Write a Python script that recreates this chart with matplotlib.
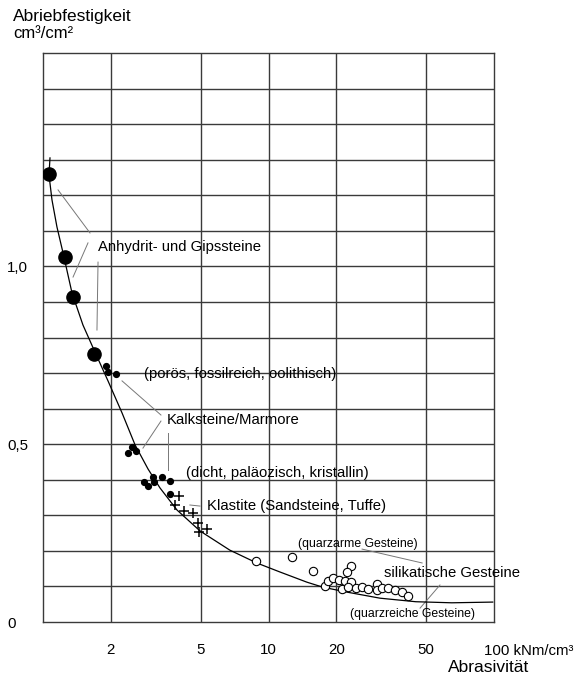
import matplotlib
matplotlib.use("Agg")
import matplotlib.pyplot as plt

plt.rcParams['font.family'] = ['Liberation Sans', 'DejaVu Sans']

# Anhydrit / Gips (große Punkte)
gips_x = [1.06, 1.25, 1.36, 1.68]
gips_y = [1.26, 1.026, 0.914, 0.754]

# Kalksteine / Marmore (kleine Punkte)
kalk_x = [1.90, 1.94, 2.11, 2.38, 2.48, 2.58, 2.80, 2.92, 3.08, 3.10, 3.37, 3.66, 3.66]
kalk_y = [0.72, 0.703, 0.697, 0.475, 0.492, 0.481, 0.394, 0.382, 0.408, 0.394, 0.408, 0.396, 0.360]

# Klastite (Kreuze)
klast_x = [4.01, 3.84, 4.22, 4.62, 4.87, 4.92, 5.33]
klast_y = [0.354, 0.329, 0.312, 0.306, 0.278, 0.253, 0.262]

# silikatische Gesteine (offene Kreise)
silik_x = [8.8, 12.7, 15.7, 23.2, 22.3, 17.8, 18.3, 19.3, 20.5, 21.8, 23.2, 21.1,
           22.5, 24.5, 26.0, 27.6, 30.2, 30.2, 31.8, 33.8, 36.4, 39.0, 41.6]
silik_y = [0.172, 0.183, 0.143, 0.157, 0.141, 0.101, 0.115, 0.124, 0.118, 0.115, 0.112, 0.093,
           0.098, 0.096, 0.098, 0.093, 0.107, 0.090, 0.096, 0.096, 0.090, 0.084, 0.073]

# Ausgleichskurve
kurve_x = [1.074, 1.063, 1.096, 1.153, 1.227, 1.345, 1.504, 1.70, 1.942, 2.241, 2.56,
           2.924, 3.302, 3.927, 4.97, 6.74, 8.87, 11.2, 14.8, 17.4, 22.3, 31.2, 45.0,
           65.0, 98.7]
kurve_y = [1.305, 1.257, 1.187, 1.111, 1.038, 0.925, 0.835, 0.759, 0.678, 0.588, 0.498,
           0.430, 0.377, 0.315, 0.256, 0.202, 0.166, 0.141, 0.112, 0.098, 0.084, 0.067, 0.057,
           0.054, 0.056]

x_ticks = [2, 5, 10, 20, 50]
x_grid = [2, 5, 10, 20, 50]
y_ticks = [0, 0.5, 1.0]
y_labels = ['0', '0,5', '1,0']

fig = plt.figure(figsize=(5.74, 6.77), dpi=100)
ax = fig.add_axes([43/574, 1-622/677, 451/574, 569/677])
ax.set_xscale('log')
ax.set_xlim(1, 100)
ax.set_ylim(0, 1.6)

gc = '#3a3a3a'
for v in x_grid:
    ax.axvline(v, color=gc, lw=1.0, zorder=1)
for i in range(1, 16):
    ax.axhline(i * 0.1, color=gc, lw=1.0, zorder=1)
for s in ax.spines.values():
    s.set_color(gc)
    s.set_linewidth(1.0)

ax.plot(kurve_x, kurve_y, color='black', lw=0.9, zorder=3)
ax.plot(gips_x, gips_y, 'o', color='black', ms=9.5, zorder=4)
ax.plot(kalk_x, kalk_y, 'o', color='black', ms=4.2, zorder=4)
ax.plot(klast_x, klast_y, '+', color='black', ms=7, mew=1.1, zorder=4)
ax.plot(silik_x, silik_y, 'o', mfc='white', mec='black', ms=6, mew=0.8, zorder=4)

# Beschriftungen mit Hinweislinien
lc = '#777777'
lw = 0.7
fs = 10.7
ax.text(1.76, 1.055, 'Anhydrit- und Gipssteine', fontsize=fs, va='center', zorder=5)
ax.plot([1.166, 1.616], [1.215, 1.094], color=lc, lw=lw)
ax.plot([1.583, 1.359], [1.066, 0.970], color=lc, lw=lw)
ax.plot([1.754, 1.735], [1.012, 0.821], color=lc, lw=lw)

ax.text(2.8, 0.697, '(porös, fossilreich, oolithisch)', fontsize=fs, va='center', zorder=5)
ax.text(3.55, 0.568, 'Kalksteine/Marmore', fontsize=fs, va='center', zorder=5)
ax.plot([2.241, 3.335], [0.678, 0.582], color=lc, lw=lw)
ax.plot([3.335, 2.775], [0.565, 0.489], color=lc, lw=lw)
ax.plot([3.58, 3.58], [0.531, 0.427], color=lc, lw=lw)
ax.text(4.3, 0.419, '(dicht, paläozisch, kristallin)', fontsize=fs, va='center', zorder=5)

ax.text(5.34, 0.326, 'Klastite (Sandsteine, Tuffe)', fontsize=fs, va='center', zorder=5)
ax.plot([4.48, 4.97], [0.329, 0.326], color=lc, lw=lw)

ax.text(13.5, 0.219, '(quarzarme Gesteine)', fontsize=8.8, va='center', zorder=5)
ax.plot([26.0, 48.0], [0.205, 0.166], color=lc, lw=lw)
ax.text(32.5, 0.138, 'silikatische Gesteine', fontsize=fs, va='center', zorder=5)
ax.text(22.9, 0.0225, '(quarzreiche Gesteine)', fontsize=8.8, va='center', zorder=5)
ax.plot([47.0, 57.6], [0.039, 0.104], color=lc, lw=lw)

# Achsen
ax.set_xticks(x_ticks)
ax.set_xticklabels([str(t) for t in x_ticks])
ax.xaxis.set_minor_locator(matplotlib.ticker.NullLocator())
ax.set_yticks(y_ticks)
ax.set_yticklabels(y_labels)
ax.tick_params(axis='both', length=0, labelsize=10.8)
ax.tick_params(axis='x', pad=15)
ax.tick_params(axis='y', pad=26)
for lbl in ax.get_yticklabels():
    lbl.set_horizontalalignment('left')

ax.annotate('100 kNm/cm³', xy=(100, 0), xycoords='data', xytext=(-7, -21),
            textcoords='offset points', ha='left', va='center', fontsize=10.8,
            annotation_clip=False)
fig.text(448/574, 1-668/677, 'Abrasivität', fontsize=12.5, va='center', ha='left')
fig.text(13/574, 1-17/677, 'Abriebfestigkeit', fontsize=12.5, va='center', ha='left')
fig.text(13/574, 1-34/677, 'cm³/cm²', fontsize=12, va='center', ha='left')

fig.savefig('out.png', dpi=100)
